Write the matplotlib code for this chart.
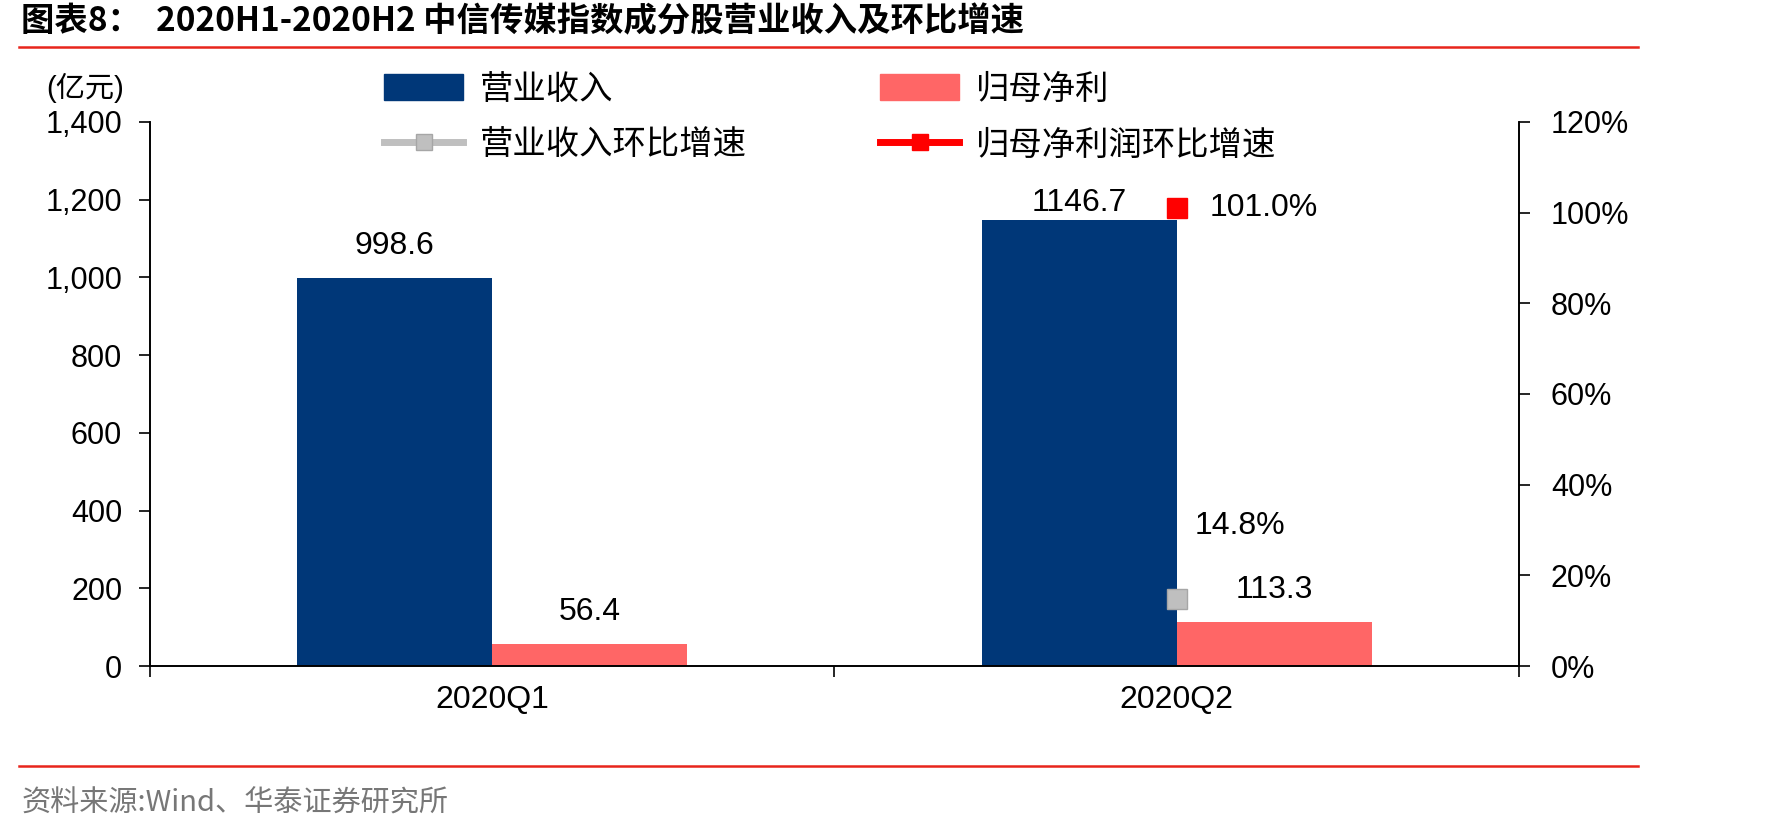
import numpy as np
import matplotlib.pyplot as plt
from matplotlib.lines import Line2D
from matplotlib.patches import Patch

plt.rcParams['font.family'] = ['Liberation Sans', 'Noto Sans CJK SC', 'DejaVu Sans']

# 数据
categorias = ['2020Q1', '2020Q2']
ingresos = [998.6, 1146.7]
beneficio = [56.4, 113.3]
crec_ingresos = [np.nan, 0.148]
crec_beneficio = [np.nan, 1.010]

azul = '#003778'
rosa = '#FF6666'
gris = '#BFBFBF'
rojo = '#FF0000'
cjk = ['Noto Sans CJK SC', 'DejaVu Sans']

fig = plt.figure(figsize=(17.71, 8.32), dpi=100)
ax = fig.add_axes([0.0847, 0.1995, 0.773, 0.654])
ax2 = ax.twinx()

x = np.arange(len(categorias))
w = 0.285
ax.bar(x - w / 2, ingresos, w, color=azul)
ax.bar(x + w / 2, beneficio, w, color=rosa)

ax.set_xlim(-0.5, 1.5)
ax.set_ylim(0, 1400)
ax.set_yticks(np.arange(0, 1401, 200))
ax.set_yticklabels([f'{v:,}' for v in range(0, 1401, 200)])
ax.set_xticks(x)
ax.set_xticklabels(categorias)
ax.set_xticks([-0.5, 0.5, 1.5], minor=True)
ax.tick_params(axis='x', which='major', length=0, pad=14, labelsize=23)
ax.tick_params(axis='x', which='minor', length=8, width=1.2)
ax.tick_params(axis='y', length=8, width=1.2, labelsize=22, pad=12)

ax2.plot(x, crec_ingresos, ls='none', marker='s', ms=15, color=gris, mec='#A6A6A6')
ax2.plot(x, crec_beneficio, ls='none', marker='s', ms=15, color=rojo, mec=rojo)
ax2.set_ylim(0, 1.2)
ax2.set_yticks(np.arange(0, 1.21, 0.2))
ax2.set_yticklabels([f'{int(round(v * 100))}%' for v in np.arange(0, 1.21, 0.2)])
ax2.tick_params(axis='y', length=8, width=1.2, labelsize=22, pad=15)

for a in (ax, ax2):
    a.spines['top'].set_visible(False)
    for s in ('left', 'right', 'bottom'):
        a.spines[s].set_linewidth(1.2)

# etiquetas de datos
for i in range(len(categorias)):
    ax.annotate(f'{ingresos[i]}', (x[i] - w / 2, ingresos[i]), xytext=(0, 12 if i == 0 else 2),
                textcoords='offset points', ha='center', va='bottom', fontsize=23)
    ax.annotate(f'{beneficio[i]}', (x[i] + w / 2, beneficio[i]), xytext=(0, 12),
                textcoords='offset points', ha='center', va='bottom', fontsize=23)
    if not np.isnan(crec_ingresos[i]):
        ax2.annotate(f'{crec_ingresos[i] * 100:.1f}%', (x[i], crec_ingresos[i]), xytext=(13, 42),
                     textcoords='offset points', ha='left', va='bottom', fontsize=23)
    if not np.isnan(crec_beneficio[i]):
        ax2.annotate(f'{crec_beneficio[i] * 100:.1f}%', (x[i], crec_beneficio[i]), xytext=(24, 0),
                     textcoords='offset points', ha='left', va='center', fontsize=23)

# leyenda
handles = [Patch(color=azul), Line2D([], [], color=gris, lw=5, marker='s', ms=12, mec='#A6A6A6'),
           Patch(color=rosa), Line2D([], [], color=rojo, lw=5, marker='s', ms=12, mec=rojo)]
labels = ['营业收入', '营业收入环比增速', '归母净利', '归母净利润环比增速']
ax.legend(handles, labels, ncol=2, loc='upper left', bbox_to_anchor=(0.171, 1.092),
          frameon=False, prop={'family': cjk, 'size': 24}, handlelength=2.37, handleheight=0.8,
          columnspacing=4.0, labelspacing=0.62, handletextpad=0.5, borderpad=0, borderaxespad=0)

fig.text(0.048, 0.894, '(亿元)', fontsize=21, family=['Liberation Sans', 'Noto Sans CJK SC'],
         ha='center', va='center')

# título y fuente
fig.text(0.012, 0.974, '图表8：  2020H1-2020H2 中信传媒指数成分股营业收入及环比增速', fontsize=24,
         fontweight='bold', family=cjk, va='center')
fig.add_artist(Line2D([0.011, 0.925], [0.9435, 0.9435], color='#E8251C', lw=1.8))
fig.add_artist(Line2D([0.011, 0.925], [0.079, 0.079], color='#E8251C', lw=1.8))
fig.text(0.012, 0.034, '资料来源:Wind、华泰证券研究所', fontsize=21, color='#777777',
         family=cjk, va='center')

fig.savefig('out.png', dpi=100)
